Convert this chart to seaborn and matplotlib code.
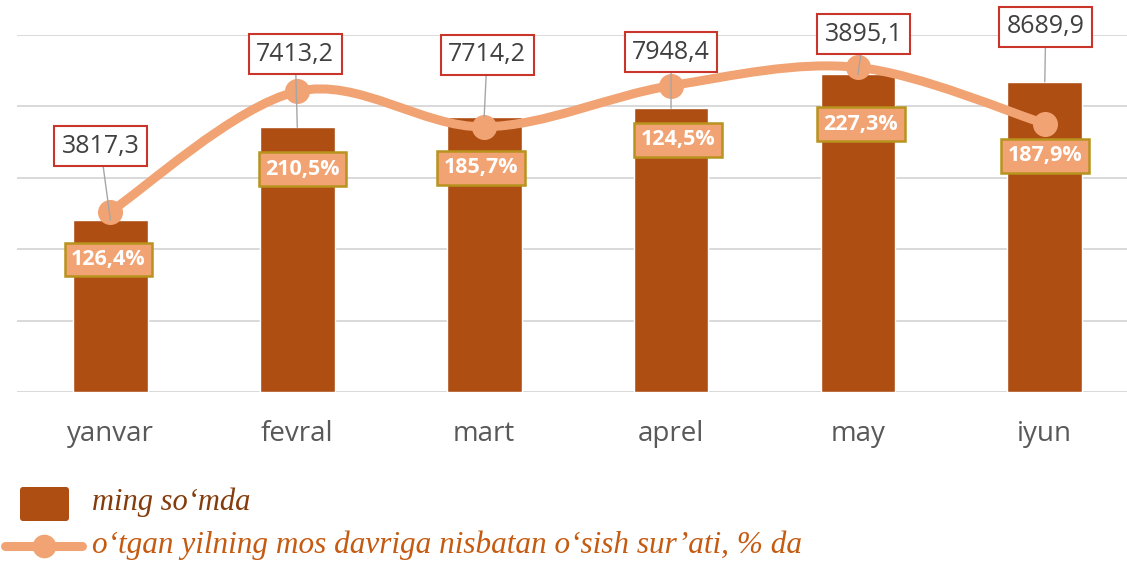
import numpy as np
import seaborn as sns
import matplotlib.pyplot as plt
from matplotlib.path import Path
from matplotlib.patches import PathPatch, FancyBboxPatch
from matplotlib.lines import Line2D
from matplotlib.transforms import IdentityTransform

# --- data ---
months = ['yanvar', 'fevral', 'mart', 'aprel', 'may', 'iyun']
amounts = [4817.3, 7413.2, 7714.2, 7948.4, 8895.1, 8689.9]   # bar heights as drawn
amount_labels = ['3817,3', '7413,2', '7714,2', '7948,4', '3895,1', '8689,9']
growth = [126.4, 210.5, 185.7, 214.5, 227.3, 187.9]            # line points as drawn
growth_labels = ['126,4%', '210,5%', '185,7%', '124,5%', '227,3%', '187,9%']

BAR = '#AE4E13'
LINE = '#F1A373'
W, H = 1127, 561

sns.set_theme(style='white')
plt.rcParams['font.family'] = ['Open Sans', 'DejaVu Sans']

fig = plt.figure(figsize=(W / 100, H / 100), dpi=100)
ax = fig.add_axes([17 / W, (H - 392) / H, 1110 / W, 357 / H])

sns.barplot(x=months, y=amounts, color=BAR, width=0.4, saturation=1, ax=ax, zorder=2)
ax.set_ylim(0, 10000)
ax.set_xlim(-0.5, 5.44)
ax.set_yticks(range(0, 10001, 2000))
ax.grid(axis='y', color='#D9D9D9', lw=1.4)
ax.set_axisbelow(True)
ax.set_xlabel('')
ax.set_ylabel('')
for s in ax.spines.values():
    s.set_visible(False)

# secondary axis for growth line
ax2 = ax.twinx()
ax2.set_ylim(0, 250)
ax2.set_yticks([])
for s in ax2.spines.values():
    s.set_visible(False)

# twinx switches the left ticks back on, so hide them afterwards
ax.tick_params(left=False, bottom=False, labelleft=False)
ax.tick_params(axis='x', labelsize=20, colors='#595959', pad=14)

# smoothed line (Catmull-Rom as cubic Bezier)
pts = np.column_stack([np.arange(len(growth)), growth]).astype(float)
ext = np.vstack([pts[0], pts, pts[-1]])
verts = [tuple(pts[0])]
codes = [Path.MOVETO]
for i in range(1, len(ext) - 2):
    p0, p1, p2, p3 = ext[i - 1], ext[i], ext[i + 1], ext[i + 2]
    c1 = p1 + (p2 - p0) / 6
    c2 = p2 - (p3 - p1) / 6
    verts += [tuple(c1), tuple(c2), tuple(p2)]
    codes += [Path.CURVE4] * 3
ax2.add_patch(PathPatch(Path(verts, codes), fill=False, ec=LINE, lw=6.5,
                        capstyle='round', joinstyle='round', zorder=2))
ax2.plot(range(len(growth)), growth, 'o', ms=17, color=LINE, zorder=2.5)

# value labels (boxes with leader lines)
val_off = [(-10, 74), (-2, 73), (3, 62), (0, 56), (6, 40), (1, 55)]
for i, (lab, (dx, dy)) in enumerate(zip(amount_labels, val_off)):
    ax2.annotate(lab, xy=(i, amounts[i]), xycoords=ax.transData,
                 xytext=(dx, dy), textcoords='offset pixels',
                 ha='center', va='center', fontsize=18, color='#404040',
                 bbox=dict(boxstyle='square,pad=0.3', fc='white', ec='#C9352A', lw=1.5),
                 arrowprops=dict(arrowstyle='-', color='#A6A6A6', lw=1, shrinkA=0, shrinkB=0),
                 zorder=5)

# growth labels
pct_off = [(-2, -48), (5, -78), (-3, -41), (7, -54), (3, -57), (0, -32)]
for i, (lab, (dx, dy)) in enumerate(zip(growth_labels, pct_off)):
    ax2.annotate(lab, xy=(i, growth[i]), xytext=(dx, dy), textcoords='offset pixels',
                 ha='center', va='center', fontsize=15.5, fontweight='bold', color='white',
                 bbox=dict(boxstyle='square,pad=0.3', fc=LINE, ec='#B8931E', lw=1.8),
                 zorder=4)

# legend (drawn by hand in pixel coordinates)
fig.add_artist(FancyBboxPatch((20, H - 521), 49, 34, boxstyle='round,pad=0,rounding_size=3',
                              fc=BAR, ec='none', transform=IdentityTransform()))
fig.text(92 / W, (H - 502) / H, 'ming so‘mda', family='Liberation Serif', style='italic',
         fontsize=22, color='#843C0C', va='center')
fig.add_artist(Line2D([5, 82], [H - 546, H - 546], lw=6.5, color=LINE,
                      solid_capstyle='round', transform=IdentityTransform()))
fig.add_artist(Line2D([44], [H - 546], marker='o', ms=16, color=LINE,
                      transform=IdentityTransform()))
fig.text(92 / W, (H - 545) / H, 'o‘tgan yilning mos davriga nisbatan o‘sish sur’ati, % da',
         family='Liberation Serif', style='italic', fontsize=22.5, color='#C55A11', va='center')

fig.savefig('out.png', dpi=100)
